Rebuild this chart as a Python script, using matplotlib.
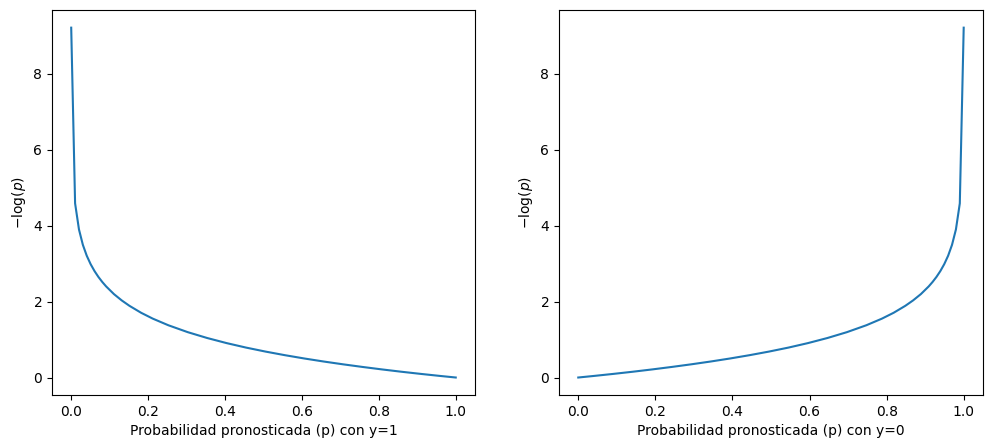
import matplotlib
matplotlib.use("Agg")
import matplotlib.pyplot as plt
import numpy as np

# predicted probability values and loss
p_vals = [0.0001, 0.0102, 0.0203, 0.0304, 0.0405, 0.0506, 0.0607, 0.0708, 0.0809,
          0.0910, 0.1112, 0.1314, 0.1516, 0.1819, 0.2122, 0.2526, 0.3031, 0.3536,
          0.4041, 0.4546, 0.5051, 0.5556, 0.6061, 0.6566, 0.7071, 0.7576, 0.8081,
          0.8586, 0.9091, 0.9596, 1.0]
loss_vals = [9.21, 4.585, 3.897, 3.493, 3.206, 2.984, 2.802, 2.648, 2.515,
             2.397, 2.196, 2.030, 1.887, 1.704, 1.550, 1.376, 1.194, 1.040,
             0.906, 0.788, 0.683, 0.588, 0.501, 0.421, 0.347, 0.278, 0.213,
             0.152, 0.095, 0.041, 0.0]
p_vals_y0 = [1.0 - v for v in p_vals]

fig = plt.figure(figsize=(9.92, 4.48), dpi=100)
ax1 = fig.add_axes([0.0524, 0.1183, 0.4264, 0.859])
ax2 = fig.add_axes([0.5635, 0.1183, 0.4274, 0.859])

ax1.plot(p_vals, loss_vals, color="#1f77b4")
ax1.set_xlabel("Probabilidad pronosticada (p) con y=1")
ax1.set_ylabel(r"$-\log(p)$")

ax2.plot(p_vals_y0, loss_vals, color="#1f77b4")
ax2.set_xlabel("Probabilidad pronosticada (p) con y=0")
ax2.set_ylabel(r"$-\log(p)$")

fig.savefig("out.png", dpi=100)
